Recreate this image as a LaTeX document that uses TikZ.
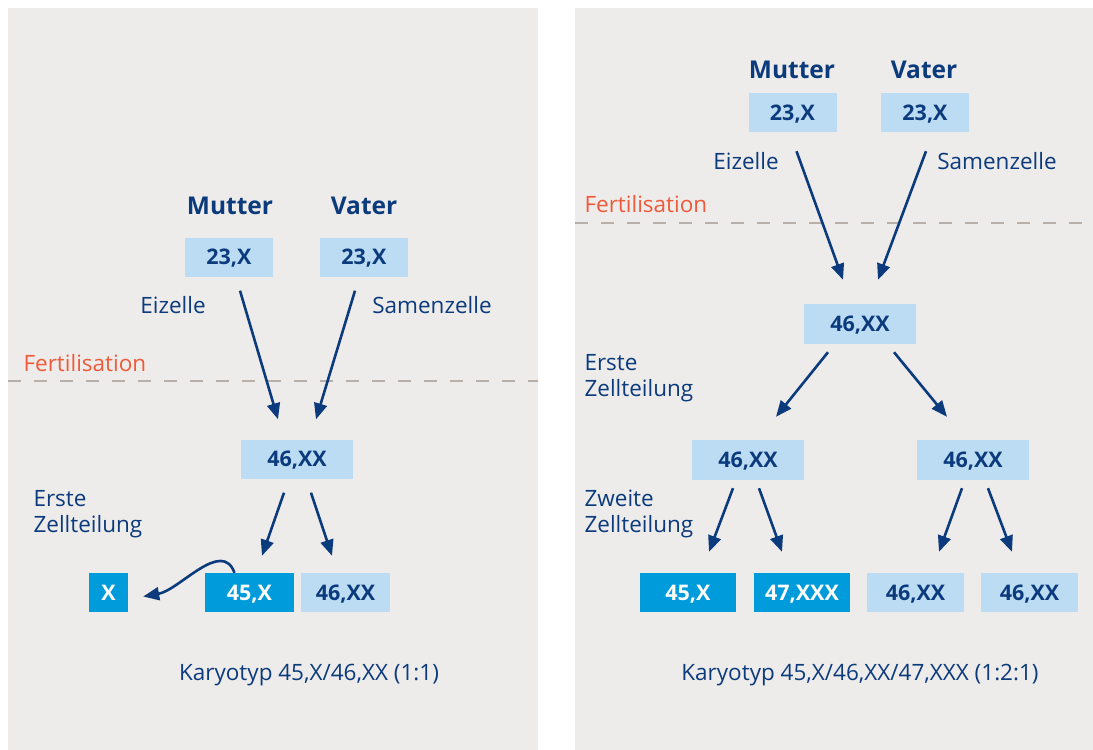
\documentclass[tikz,border=0pt]{standalone}
\usepackage{fontspec}
\setmainfont{Open Sans}
\usetikzlibrary{arrows.meta,calc}

\definecolor{panelgray}{HTML}{EEECEA}
\definecolor{navy}{HTML}{0B3B7C}
\definecolor{palecell}{HTML}{BBDCF3}
\definecolor{strongcell}{HTML}{009BDB}
\definecolor{fertred}{HTML}{EE5A3A}
\definecolor{dashgray}{HTML}{B8B0A8}

\tikzset{
	cell/.style={inner sep=0pt, minimum height=39pt, text depth=0pt,
		font=\fontsize{21.5}{24}\selectfont\bfseries},
	lightcell/.style={cell, fill=palecell, text=navy},
	darkcell/.style={cell, fill=strongcell, text=white},
	parent/.style={text=navy, font=\fontsize{24.5}{28}\selectfont\bfseries},
	lbl/.style={text=navy, font=\fontsize{22.5}{26}\selectfont, align=left},
	fert/.style={text=fertred, font=\fontsize{22.5}{26}\selectfont},
	arr/.style={navy, line width=2.6pt, -{Triangle[length=16pt,width=13pt]}},
	divide/.style={dashgray, line width=2.8pt, dash pattern=on 13pt off 13pt},
}

\begin{document}
\begin{tikzpicture}[x=1pt, y=-1pt]
	\useasboundingbox (0,0) rectangle (1093,750);
	\fill[white] (0,0) rectangle (1093,750);
	\fill[panelgray] (8,8) rectangle (538,750);
	\fill[panelgray] (575,8) rectangle (1093,750);

	% left panel
	\node[parent] (mutL) at (230,206) {Mutter};
	\node[parent] (vatL) at (364,206) {Vater};
	\node[lightcell, minimum width=88pt] (eiL) at (229,257) {23,X};
	\node[lightcell, minimum width=88pt] (saL) at (364,257) {23,X};
	\node[lbl] (eiLbl) at (173,305) {Eizelle};
	\node[lbl] (saLbl) at (432,305) {Samenzelle};
	\node[fert, anchor=west] (fertL) at (20,363) {Fertilisation};
	\draw[divide] (8,381) -- (538,381);
	\node[lightcell, minimum width=112pt] (zygL) at (297,459) {46,XX};
	\node[lbl, anchor=west] (ersteL) at (30,514) {Erste\\Zellteilung};
	\node[darkcell, minimum width=39pt] (xL) at (108.5,592.5) {X};
	\node[darkcell, minimum width=89pt] (monoL) at (249.5,592.5) {45,X};
	\node[lightcell, minimum width=89pt] (normL) at (345.5,592.5) {46,XX};
	\node[lbl] (karL) at (309,675) {Karyotyp 45,X/46,XX (1:1)};

	\draw[arr] ($(eiL.south)+(11,14)$) -- ($(zygL.north)+(-19,-20)$);
	\draw[arr] ($(saL.south)+(-9,14)$) -- ($(zygL.north)+(19,-20)$);
	\draw[arr] ($(zygL.south)+(-13,14)$) -- ($(monoL.north)+(12.5,-17)$);
	\draw[arr] ($(zygL.south)+(14,14)$) -- ($(normL.north)+(-13.5,-17)$);
	\draw[arr] ($(monoL.north)+(-15,0)$) to[out=110, in=10] ($(xL.east)+(15,4)$);

	% right panel
	\node[parent] (mutR) at (792,70) {Mutter};
	\node[parent] (vatR) at (924,70) {Vater};
	\node[lightcell, minimum width=88pt] (eiR) at (792.5,112.5) {23,X};
	\node[lightcell, minimum width=88pt] (saR) at (925,112.5) {23,X};
	\node[lbl] (eiRLbl) at (746,161) {Eizelle};
	\node[lbl] (saRLbl) at (997,161) {Samenzelle};
	\node[fert, anchor=west] (fertR) at (581,204) {Fertilisation};
	\draw[divide] (575,223) -- (1093,223);
	\node[lightcell, minimum width=112pt, minimum height=40pt] (zygR) at (860,324) {46,XX};
	\node[lbl, anchor=west] (ersteR) at (581,378) {Erste\\Zellteilung};
	\node[lightcell, minimum width=112pt, minimum height=40pt] (leftR) at (748,460) {46,XX};
	\node[lightcell, minimum width=112pt, minimum height=40pt] (rightR) at (973,460) {46,XX};
	\node[lbl, anchor=west] (zweiteR) at (581,514) {Zweite\\Zellteilung};
	\node[darkcell, minimum width=96pt] (monoR) at (688,592.5) {45,X};
	\node[darkcell, minimum width=96pt] (triR) at (802,592.5) {47,XXX};
	\node[lightcell, minimum width=97pt] (normA) at (915.5,592.5) {46,XX};
	\node[lightcell, minimum width=97pt] (normB) at (1029.5,592.5) {46,XX};
	\node[lbl] (karR) at (860,675) {Karyotyp 45,X/46,XX/47,XXX (1:2:1)};

	\draw[arr] ($(eiR.south)+(4,19)$) -- ($(zygR.north)+(-17,-24)$);
	\draw[arr] ($(saR.south)+(1,19)$) -- ($(zygR.north)+(18,-24)$);
	\draw[arr] ($(zygR.south)+(-32,8)$) -- ($(leftR.north)+(28,-23)$);
	\draw[arr] ($(zygR.south)+(34,8)$) -- ($(rightR.north)+(-26,-23)$);
	\draw[arr] ($(leftR.south)+(-15,8)$) -- ($(monoR.north)+(21,-21)$);
	\draw[arr] ($(leftR.south)+(11,8)$) -- ($(triR.north)+(-20,-21)$);
	\draw[arr] ($(rightR.south)+(-11,8)$) -- ($(normA.north)+(23.5,-21)$);
	\draw[arr] ($(rightR.south)+(15,8)$) -- ($(normB.north)+(-17.5,-21)$);
\end{tikzpicture}
\end{document}
